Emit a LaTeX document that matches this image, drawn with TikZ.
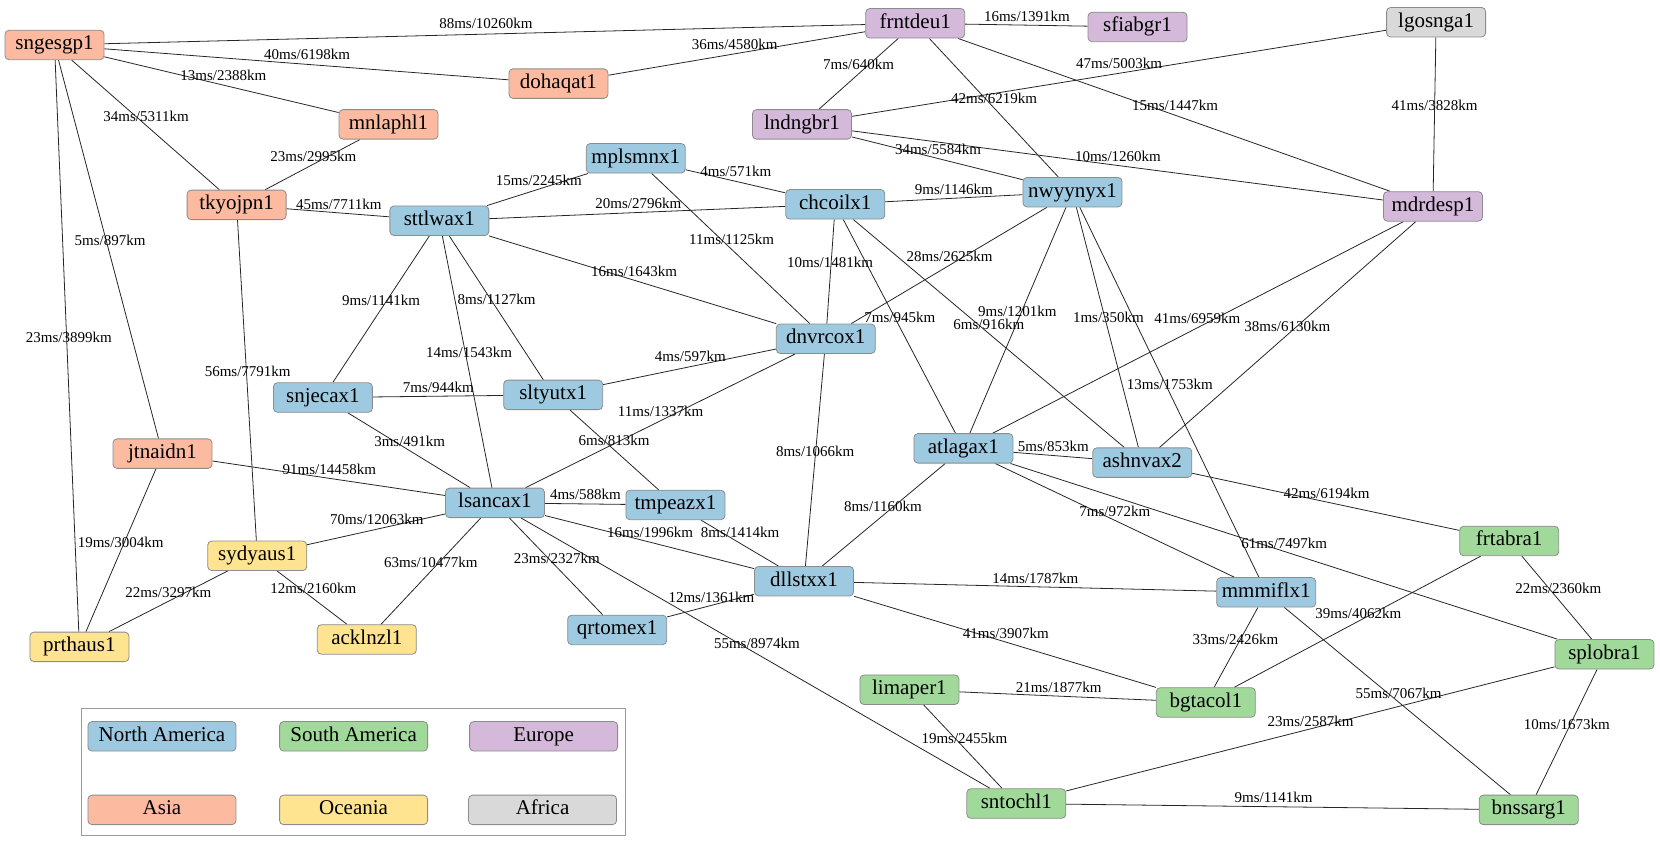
\documentclass[tikz,border=0pt]{standalone}
\usepackage{fontspec}
\setmainfont{Liberation Serif}
\definecolor{cNA}{RGB}{158,202,225}
\definecolor{cSA}{RGB}{161,217,155}
\definecolor{cEU}{RGB}{212,185,218}
\definecolor{cAS}{RGB}{252,187,161}
\definecolor{cOC}{RGB}{254,227,145}
\definecolor{cAF}{RGB}{217,217,217}
\pgfdeclarelayer{bg}
\pgfsetlayers{bg,main}
\tikzset{
  rtr/.style={rectangle, rounded corners=4pt, draw=black!45, line width=0.8pt,
    minimum width=99pt, minimum height=29.5pt, inner sep=0pt,
    text height=14.5pt, text depth=4.5pt,
    font=\fontsize{21}{24}\selectfont},
  na/.style={rtr, fill=cNA}, sa/.style={rtr, fill=cSA}, eu/.style={rtr, fill=cEU},
  as/.style={rtr, fill=cAS}, oc/.style={rtr, fill=cOC}, af/.style={rtr, fill=cAF},
  legitem/.style={minimum width=148pt},
  lbl/.style={inner sep=0pt, font=\fontsize{15}{17}\selectfont},
  link/.style={draw=black!85, line width=0.8pt},
  frame/.style={draw=black!40, line width=1pt}
}
\begin{document}
\begin{tikzpicture}[x=1.0587pt, y=-1.0587pt]
\useasboundingbox (0,0) rectangle (1568,799);
% nodes
\node[as] (sngesgp1) at (51.5,42.5) {sngesgp1};
\node[eu] (frntdeu1) at (864.5,22) {frntdeu1};
\node[eu] (sfiabgr1) at (1074.5,25.5) {sfiabgr1};
\node[af] (lgosnga1) at (1356.5,21) {lgosnga1};
\node[as] (dohaqat1) at (527.5,79) {dohaqat1};
\node[as] (mnlaphl1) at (367,117.5) {mnlaphl1};
\node[eu] (lndngbr1) at (757.5,117.5) {lndngbr1};
\node[na] (mplsmnx1) at (600.5,149.5) {mplsmnx1};
\node[as] (tkyojpn1) at (223.5,193.5) {tkyojpn1};
\node[na] (sttlwax1) at (415,208.5) {sttlwax1};
\node[na] (chcoilx1) at (789,193) {chcoilx1};
\node[na] (nwyynyx1) at (1013,181.5) {nwyynyx1};
\node[eu] (mdrdesp1) at (1353.5,195) {mdrdesp1};
\node[na] (dnvrcox1) at (780,320) {dnvrcox1};
\node[na] (snjecax1) at (305,375.5) {snjecax1};
\node[na] (sltyutx1) at (522.5,373) {sltyutx1};
\node[na] (atlagax1) at (910,423.5) {atlagax1};
\node[na] (ashnvax2) at (1079,437) {ashnvax2};
\node[as] (jtnaidn1) at (153.5,428.5) {jtnaidn1};
\node[na] (lsancax1) at (467.5,475) {lsancax1};
\node[na] (tmpeazx1) at (638,477) {tmpeazx1};
\node[oc] (sydyaus1) at (243,525) {sydyaus1};
\node[sa] (frtabra1) at (1425.5,511) {frtabra1};
\node[na] (dllstxx1) at (759.5,549) {dllstxx1};
\node[na] (mmmiflx1) at (1196,559.5) {mmmiflx1};
\node[na] (qrtomex1) at (583,595) {qrtomex1};
\node[oc] (prthaus1) at (75,611) {prthaus1};
\node[oc] (acklnzl1) at (346.5,604) {acklnzl1};
\node[sa] (splobra1) at (1515.5,618) {splobra1};
\node[sa] (limaper1) at (859,651.5) {limaper1};
\node[sa] (bgtacol1) at (1139,663.5) {bgtacol1};
\node[sa] (sntochl1) at (960,759) {sntochl1};
\node[sa] (bnssarg1) at (1444,765) {bnssarg1};
% edges with labels
\foreach \a/\b/\ms/\km/\lx/\ly in {
sngesgp1/frntdeu1/88/10260/459/22,
sngesgp1/dohaqat1/40/6198/290/51,
sngesgp1/mnlaphl1/13/2388/211/71,
sngesgp1/tkyojpn1/34/5311/138/110,
sngesgp1/jtnaidn1/5/897/104/227,
sngesgp1/prthaus1/23/3899/65/319,
mnlaphl1/tkyojpn1/23/2995/296/148,
tkyojpn1/sttlwax1/45/7711/320/193,
tkyojpn1/sydyaus1/56/7791/234/351,
frntdeu1/dohaqat1/36/4580/694/42,
frntdeu1/sfiabgr1/16/1391/970/15,
frntdeu1/lndngbr1/7/640/811/61,
frntdeu1/nwyynyx1/42/6219/939/93,
frntdeu1/mdrdesp1/15/1447/1110/100,
lndngbr1/lgosnga1/47/5003/1057/60,
lndngbr1/nwyynyx1/34/5584/886/141,
lndngbr1/mdrdesp1/10/1260/1056/148,
lgosnga1/mdrdesp1/41/3828/1355/100,
mdrdesp1/atlagax1/41/6959/1131/301,
mdrdesp1/ashnvax2/38/6130/1216/308,
sttlwax1/mplsmnx1/15/2245/509/170,
sttlwax1/chcoilx1/20/2796/603/192,
sttlwax1/dnvrcox1/16/1643/599/256,
sttlwax1/snjecax1/9/1141/360/284,
sttlwax1/sltyutx1/8/1127/469/283,
sttlwax1/lsancax1/14/1543/443/333,
mplsmnx1/chcoilx1/4/571/695/162,
mplsmnx1/dnvrcox1/11/1125/691/226,
chcoilx1/nwyynyx1/9/1146/901/179,
chcoilx1/dnvrcox1/10/1481/784/248,
chcoilx1/atlagax1/7/945/850/300,
chcoilx1/ashnvax2/6/916/934/306,
nwyynyx1/dnvrcox1/28/2625/897/242,
nwyynyx1/atlagax1/9/1201/961/294,
nwyynyx1/ashnvax2/1/350/1047/300,
nwyynyx1/mmmiflx1/13/1753/1105/363,
dnvrcox1/sltyutx1/4/597/652/337,
dnvrcox1/lsancax1/11/1337/624/389,
dnvrcox1/dllstxx1/8/1066/770/426,
snjecax1/sltyutx1/7/944/414/366,
snjecax1/lsancax1/3/491/387/417,
sltyutx1/tmpeazx1/6/813/580/416,
jtnaidn1/lsancax1/91/14458/311/443,
jtnaidn1/prthaus1/19/3004/114/512,
lsancax1/tmpeazx1/4/588/553/467,
lsancax1/sydyaus1/70/12063/356/491,
lsancax1/acklnzl1/63/10477/407/531,
lsancax1/dllstxx1/16/1996/614/503,
lsancax1/qrtomex1/23/2327/526/527,
lsancax1/sntochl1/55/8974/715/608,
tmpeazx1/dllstxx1/8/1414/699/503,
sydyaus1/prthaus1/22/3297/159/560,
sydyaus1/acklnzl1/12/2160/296/556,
atlagax1/ashnvax2/5/853/995/422,
atlagax1/dllstxx1/8/1160/834/478,
atlagax1/mmmiflx1/7/972/1053/483,
atlagax1/splobra1/61/7497/1213/513,
ashnvax2/frtabra1/42/6194/1253/466,
dllstxx1/qrtomex1/12/1361/672/564,
dllstxx1/mmmiflx1/14/1787/978/546,
dllstxx1/bgtacol1/41/3907/950/598,
mmmiflx1/bgtacol1/33/2426/1167/604,
mmmiflx1/bnssarg1/55/7067/1321/655,
frtabra1/bgtacol1/39/4062/1283/579,
frtabra1/splobra1/22/2360/1472/556,
limaper1/bgtacol1/21/1877/1000/649,
limaper1/sntochl1/19/2455/911/697,
splobra1/sntochl1/23/2587/1238/681,
splobra1/bnssarg1/10/1673/1480/684,
sntochl1/bnssarg1/9/1141/1203/753}{
  \begin{pgfonlayer}{bg}
    \draw[link] (\a) -- (\b);
  \end{pgfonlayer}
  \node[lbl] (l-\a-\b) at (\lx,\ly) {\ms ms/\km km};
}
% legend
\node[frame, rectangle, minimum width=544pt, minimum height=126.7pt, inner sep=0pt] (legend) at (333.5,729) {};
\node[na, legitem] (lgNA) at (153,695.5) {North America};
\node[sa, legitem] (lgSA) at (334,695.5) {South America};
\node[eu, legitem] (lgEU) at (513.5,695.5) {Europe};
\node[as, legitem] (lgAS) at (153,765) {Asia};
\node[oc, legitem] (lgOC) at (334,765) {Oceania};
\node[af, legitem] (lgAF) at (512.5,765) {Africa};
\end{tikzpicture}
\end{document}
